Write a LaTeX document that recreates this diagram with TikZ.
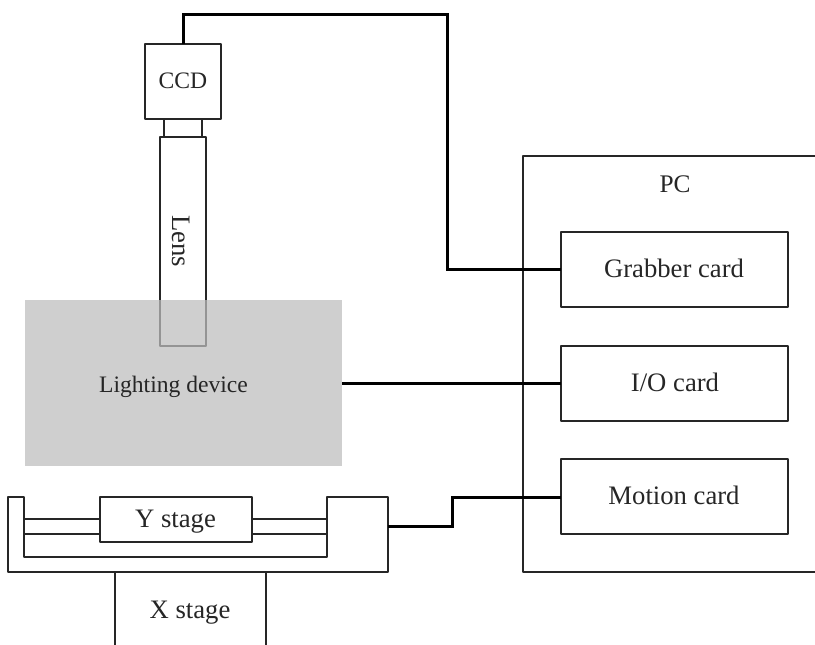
\documentclass[tikz,border=0pt]{standalone}
\usepackage{fontspec}
\setmainfont{Liberation Serif}
\begin{document}
\begin{tikzpicture}[x=0.75pt,y=-0.75pt,
  thinline/.style={draw=black!85,line width=1.35pt,line join=round},
  thickline/.style={draw=black,line width=2.25pt,line join=miter},
  box/.style={thinline,fill=white,inner sep=0pt,outer sep=0pt,anchor=north west},
  lbl/.style={font=\fontsize{20pt}{22pt}\selectfont,text=black!85,inner sep=0pt,anchor=base},
  lblsmall/.style={lbl,font=\fontsize{17.7pt}{20pt}\selectfont}]
\useasboundingbox (0,0) rectangle (815,644);
\clip (0,0) rectangle (815,644);
% sizes: 1 px = 0.75 pt
\newcommand{\bx}[6]{\node[#6,minimum width=#4*0.75pt,minimum height=#5*0.75pt] (#1) at (#2,#3) {};}
% lighting device
\bx{light}{25}{300}{317}{166}{fill=gray!38!white,inner sep=0pt,outer sep=0pt,anchor=north west}
\node[lblsmall] at (173.5,392) {Lighting device};
% lens
\bx{lens}{160}{137}{46}{163}{inner sep=0pt,outer sep=0pt,anchor=north west,fill=white}
\draw[thinline] (lens.south west) -- (lens.north west) -- (lens.north east) -- (lens.south east);
\coordinate (lensBL) at (160,346);
\coordinate (lensBR) at (206,346);
\draw[thinline,draw=black!42] (lens.south west) -- (lensBL) -- (lensBR) -- (lens.south east);
\node[lbl,rotate=-90] at (172,241) {Lens};
% CCD
\bx{coupler}{164}{119}{38}{18}{box}
\bx{ccd}{145}{44}{76}{75}{box}
\node[lblsmall] at (183,88) {CCD};
% PC
\bx{pc}{523}{156}{300}{416}{box}
\node[lbl,font=\fontsize{19pt}{21pt}\selectfont] at (675,192) {PC};
\bx{grab}{561}{232}{227}{75}{box}
\node[lbl] at (674,277) {Grabber card};
\bx{io}{561}{346}{227}{75}{box}
\node[lbl] at (675,391) {I/O card};
\bx{motion}{561}{459}{227}{75}{box}
\node[lbl] at (674,504) {Motion card};
% stages
\bx{xst}{115}{572}{151}{90}{box}
\node[lbl] at (190,618) {X stage};
\coordinate (stOut) at (388,526);
\draw[thinline,fill=white] (8,497) -- (24,497) -- (24,557) -- (327,557) -- (327,497) -- (388,497) -- (388,572) -- (8,572) -- cycle;
\bx{yst}{100}{497}{152}{45}{box}
\node[lbl] at (175.5,527) {Y stage};
\coordinate (railLa) at (24,519);
\coordinate (railLb) at (24,534);
\coordinate (railRa) at (327,519);
\coordinate (railRb) at (327,534);
\draw[thinline] (railLa) -- (yst.west |- railLa);
\draw[thinline] (railLb) -- (yst.west |- railLb);
\draw[thinline] (railRa) -- (yst.east |- railRa);
\draw[thinline] (railRb) -- (yst.east |- railRb);
% connectors
\coordinate (c1) at (183,14);
\coordinate (c2) at (447,14);
\coordinate (c3) at (447,269);
\coordinate (c4) at (452,526);
\coordinate (c5) at (452,497);
\draw[thickline] (ccd.north -| c1) -- (c1) -- (c2) -- (c3) -- (grab.west |- c3);
\draw[thickline] (light.east |- io.west) -- (io.west);
\draw[thickline] (stOut) -- (c4) -- (c5) -- (motion.west |- c5);
\end{tikzpicture}
\end{document}
